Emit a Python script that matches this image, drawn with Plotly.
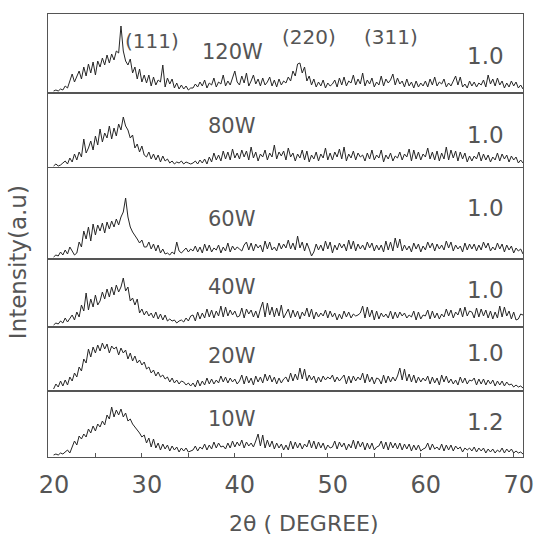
import plotly.graph_objects as go
from plotly.subplots import make_subplots

# ---------------- data ----------------
# scan grid: 2-theta start and step (degrees)
TWO_THETA_START = 20.5
TWO_THETA_STEP = 0.25

POWERS = ["120W", "80W", "60W", "40W", "20W", "10W"]
SCALES = ["1.0", "1.0", "1.0", "1.0", "1.0", "1.2"]
PEAKS = ["(111)", "(220)", "(311)"]
TICK_VALUES = [20, 25, 30, 35, 40, 45, 50, 55, 60, 65, 70]
TICK_LABELS = ["20", "", "30", "", "40", "", "50", "", "60", "", "70"]

I_120W = [
    0, 1, 0, 2, 1, 5, 3, 10, 17, 9, 14, 20, 12, 24, 15, 27, 18, 29, 16, 30,
    24, 33, 26, 36, 28, 37, 31, 40, 38, 65, 40, 30, 26, 32, 18, 24, 12, 22, 9, 16,
    8, 16, 5, 14, 6, 11, 9, 26, 4, 13, 7, 12, 3, 8, 2, 6, 2, 5, 1, 3,
    3, 7, 4, 9, 5, 11, 3, 8, 6, 13, 4, 9, 7, 16, 5, 10, 6, 14, 20, 9,
    6, 15, 8, 18, 5, 10, 16, 7, 12, 5, 13, 6, 9, 14, 5, 11, 4, 12, 6, 10,
    8, 14, 10, 20, 15, 27, 28, 18, 24, 10, 15, 6, 12, 4, 9, 5, 11, 3, 8, 5,
    7, 11, 4, 13, 6, 14, 5, 10, 8, 16, 6, 12, 7, 18, 5, 11, 7, 13, 4, 9,
    6, 15, 5, 12, 8, 11, 17, 6, 13, 7, 10, 4, 12, 5, 9, 3, 10, 4, 8, 5,
    10, 4, 12, 6, 14, 5, 9, 7, 12, 4, 8, 5, 10, 15, 6, 14, 4, 7, 3, 10,
    5, 9, 4, 8, 6, 11, 4, 16, 7, 12, 5, 13, 6, 10, 3, 8, 4, 10, 5, 9,
    3, 6, 2]
I_80W = [
    0, 2, 0, 1, 3, 5, 2, 8, 4, 12, 6, 14, 9, 27, 13, 18, 25, 16, 30, 21,
    37, 24, 33, 28, 40, 27, 38, 30, 42, 36, 49, 40, 36, 28, 31, 18, 22, 14, 20, 11,
    9, 14, 7, 12, 6, 11, 4, 10, 5, 7, 3, 5, 2, 4, 3, 5, 2, 4, 3, 2,
    3, 5, 2, 6, 3, 7, 2, 9, 4, 13, 6, 11, 5, 15, 7, 14, 6, 17, 8, 13,
    7, 16, 9, 15, 6, 19, 8, 14, 5, 12, 9, 16, 6, 13, 9, 21, 7, 14, 10, 15,
    6, 18, 9, 13, 5, 12, 8, 16, 6, 15, 4, 11, 7, 14, 5, 12, 8, 18, 6, 13,
    6, 14, 9, 17, 7, 19, 5, 12, 8, 15, 6, 13, 9, 11, 5, 13, 7, 16, 6, 11,
    8, 16, 4, 11, 7, 13, 5, 10, 8, 14, 6, 12, 9, 17, 5, 16, 7, 14, 6, 12,
    9, 18, 7, 14, 6, 15, 5, 13, 7, 19, 6, 16, 8, 15, 5, 14, 7, 13, 4, 10,
    5, 10, 7, 14, 5, 12, 6, 11, 4, 9, 6, 13, 5, 12, 7, 11, 4, 10, 6, 9,
    3, 6, 3]
I_60W = [
    0, 2, 1, 5, 2, 7, 3, 10, 6, 2, 4, 15, 10, 26, 18, 30, 16, 33, 22, 32,
    26, 34, 24, 35, 28, 36, 30, 38, 32, 40, 45, 59, 40, 30, 25, 22, 18, 14, 17, 10,
    10, 15, 8, 13, 6, 12, 4, 8, 3, 4, 2, 5, 3, 15, 6, 4, 7, 9, 5, 8,
    6, 11, 5, 10, 4, 13, 6, 12, 5, 9, 7, 12, 4, 10, 6, 14, 5, 11, 7, 10,
    8, 6, 12, 15, 7, 14, 6, 13, 9, 12, 5, 16, 8, 15, 7, 10, 6, 14, 8, 13,
    9, 17, 8, 14, 7, 21, 9, 15, 6, 14, 8, 1, 5, 13, 7, 12, 6, 16, 8, 15,
    4, 12, 7, 14, 9, 13, 6, 17, 8, 16, 6, 13, 8, 12, 7, 15, 9, 14, 6, 12,
    7, 12, 5, 16, 7, 15, 6, 19, 9, 18, 6, 12, 7, 11, 5, 14, 8, 13, 5, 11,
    7, 15, 9, 14, 6, 13, 8, 12, 7, 16, 9, 15, 6, 12, 8, 11, 5, 14, 7, 13,
    8, 13, 6, 12, 7, 15, 9, 14, 6, 10, 7, 14, 8, 13, 5, 12, 7, 11, 4, 9,
    6, 8, 3]
I_40W = [
    0, 2, 1, 4, 2, 7, 3, 6, 10, 5, 13, 8, 20, 14, 32, 15, 26, 18, 30, 20,
    24, 33, 26, 36, 28, 38, 30, 40, 33, 38, 47, 34, 38, 24, 27, 20, 26, 12, 16, 10,
    14, 9, 12, 7, 13, 6, 11, 5, 10, 4, 6, 4, 5, 2, 4, 5, 3, 7, 4, 9,
    10, 4, 13, 6, 12, 7, 16, 8, 15, 7, 14, 9, 19, 8, 18, 9, 15, 10, 14, 8,
    9, 17, 7, 16, 11, 15, 8, 14, 7, 16, 23, 8, 22, 10, 18, 8, 17, 9, 20, 7,
    12, 16, 7, 15, 8, 14, 6, 13, 9, 17, 8, 16, 6, 13, 8, 12, 9, 15, 7, 14,
    8, 12, 5, 11, 6, 14, 8, 13, 7, 11, 9, 10, 12, 19, 7, 18, 8, 15, 5, 14,
    6, 12, 8, 11, 7, 14, 6, 13, 7, 13, 9, 12, 7, 10, 8, 14, 5, 13, 6, 10,
    9, 15, 6, 14, 7, 12, 6, 11, 8, 16, 9, 15, 7, 13, 10, 17, 8, 18, 9, 14,
    13, 7, 17, 8, 16, 9, 15, 7, 14, 6, 13, 7, 19, 8, 18, 9, 14, 6, 13, 5,
    6, 11, 10]
I_20W = [
    0, 5, 2, 8, 3, 9, 4, 12, 8, 16, 12, 22, 18, 30, 26, 40, 32, 42, 36, 44,
    38, 46, 40, 45, 36, 43, 40, 42, 34, 41, 36, 39, 30, 36, 28, 33, 26, 29, 24, 27,
    20, 22, 16, 19, 13, 17, 12, 14, 10, 12, 7, 11, 6, 9, 5, 8, 7, 4, 6, 3,
    6, 2, 9, 3, 8, 4, 11, 5, 10, 5, 9, 6, 13, 7, 12, 6, 11, 7, 10, 5,
    8, 14, 5, 13, 6, 11, 4, 13, 7, 12, 6, 15, 8, 14, 7, 12, 5, 11, 6, 10,
    12, 7, 16, 8, 15, 9, 21, 10, 20, 8, 14, 9, 13, 6, 12, 7, 13, 9, 12, 10,
    14, 7, 12, 8, 11, 14, 5, 13, 6, 13, 8, 12, 9, 16, 6, 15, 7, 12, 5, 11,
    10, 5, 14, 6, 13, 7, 12, 8, 13, 21, 9, 20, 8, 15, 7, 14, 6, 12, 7, 11,
    8, 13, 5, 12, 6, 11, 4, 14, 7, 13, 6, 10, 5, 9, 4, 12, 6, 11, 5, 9,
    8, 11, 4, 10, 5, 10, 4, 9, 5, 9, 3, 8, 4, 8, 3, 7, 4, 5, 2, 4,
    2, 3, 1]
I_10W = [
    0, 1, 0, 2, 1, 3, 5, 2, 8, 14, 10, 19, 16, 21, 18, 26, 22, 29, 24, 31,
    28, 34, 30, 40, 36, 48, 38, 45, 40, 46, 38, 42, 34, 36, 31, 28, 26, 22, 18, 20,
    12, 17, 8, 16, 7, 12, 5, 11, 6, 10, 4, 9, 5, 8, 3, 7, 4, 7, 3, 4,
    5, 9, 4, 8, 6, 11, 5, 10, 6, 13, 7, 12, 8, 9, 6, 12, 7, 14, 8, 13,
    9, 15, 7, 13, 9, 12, 8, 14, 21, 9, 20, 7, 15, 8, 14, 6, 12, 7, 11, 5,
    10, 5, 14, 6, 13, 7, 12, 6, 11, 8, 15, 7, 14, 6, 13, 7, 12, 5, 10, 7,
    8, 14, 6, 13, 8, 12, 5, 11, 7, 15, 6, 14, 8, 13, 5, 12, 6, 12, 5, 8,
    9, 14, 6, 13, 5, 13, 7, 12, 6, 12, 5, 11, 6, 11, 4, 10, 5, 10, 4, 6,
    7, 12, 5, 11, 6, 8, 5, 11, 4, 10, 5, 10, 4, 9, 6, 8, 3, 7, 5, 7,
    4, 8, 3, 7, 4, 7, 2, 6, 3, 6, 2, 5, 3, 7, 2, 6, 3, 6, 2, 4,
    2, 3, 1]

SERIES = [I_120W, I_80W, I_60W, I_40W, I_20W, I_10W]
for s in SERIES:
    assert len(s) == 203, len(s)

# ---------------- layout ----------------
PANEL_H = [79, 75, 91, 68, 64, 66]
FONT = "DejaVu Sans"
INK = "#555555"
FRAME = "#555555"

fig = make_subplots(rows=6, cols=1, shared_xaxes=True, vertical_spacing=0,
                    row_heights=PANEL_H)

for i, ys in enumerate(SERIES):
    fig.add_trace(go.Scatter(x0=TWO_THETA_START, dx=TWO_THETA_STEP, y=ys,
                             mode="lines", line=dict(color="#262626", width=1),
                             showlegend=False, hoverinfo="skip"),
                  row=i + 1, col=1)
    fig.update_yaxes(range=[-2, PANEL_H[i] - 2], showticklabels=False, ticks="",
                     showgrid=False, zeroline=False, showline=True, mirror=True,
                     automargin=False,
                     linecolor=FRAME, linewidth=1, row=i + 1, col=1)

fig.update_xaxes(range=[19.9, 71.0], showgrid=False, zeroline=False,
                 automargin=False,
                 showline=True, mirror=True, linecolor=FRAME, linewidth=1)
fig.update_xaxes(ticks="inside", ticklen=4, tickcolor=FRAME,
                 tickvals=TICK_VALUES, ticktext=TICK_LABELS,
                 ticklabelstandoff=6, ticklabelshift=5,
                 tickfont=dict(family=FONT, size=24, color=INK),
                 row=6, col=1)

ann = []
power_y = [0.52, 0.56, 0.44, 0.59, 0.55, 0.58]
scale_y = [0.47, 0.44, 0.56, 0.54, 0.59, 0.53]
for i in range(6):
    yref = "y domain" if i == 0 else "y%d domain" % (i + 1)
    xref = "x" if i == 0 else "x%d" % (i + 1)
    ann.append(dict(text=POWERS[i], x=39.7, y=power_y[i], xref=xref, yref=yref,
                    xanchor="center", yanchor="middle", showarrow=False,
                    font=dict(family=FONT, size=21, color=INK)))
    ann.append(dict(text=SCALES[i], x=67.0, y=scale_y[i], xref=xref, yref=yref,
                    xanchor="center", yanchor="middle", showarrow=False,
                    font=dict(family=FONT, size=23, color=INK)))

for txt, xv, yv in zip(PEAKS, [31.1, 48.0, 56.8], [0.66, 0.71, 0.71]):
    ann.append(dict(text=txt, x=xv, y=yv, xref="x", yref="y domain",
                    xanchor="center", yanchor="middle", showarrow=False,
                    font=dict(family=FONT, size=20, color=INK)))

ann.append(dict(text="2θ ( DEGREE)", x=0.539, y=-0.149, xref="paper", yref="paper",
                xanchor="center", yanchor="middle", showarrow=False,
                font=dict(family=FONT, size=22, color=INK)))
ann.append(dict(text="Intensity(a.u)", x=-0.063, y=0.44, xref="paper", yref="paper",
                xanchor="center", yanchor="middle", textangle=-90, showarrow=False,
                font=dict(family=FONT, size=23, color=INK)))

fig.update_layout(width=538, height=537,
                  margin=dict(l=48, r=15, t=14, b=80, autoexpand=False),
                  paper_bgcolor="white", plot_bgcolor="white",
                  annotations=ann)

fig.write_html("out.html")
